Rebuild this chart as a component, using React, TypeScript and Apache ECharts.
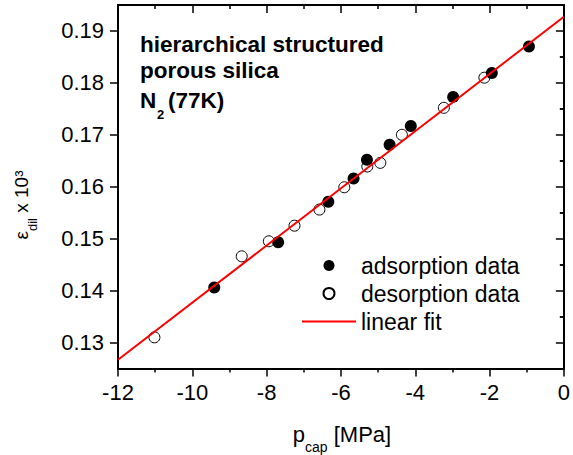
import React, { useEffect, useRef } from "react";
import * as echarts from "echarts";

const adsorptionX = [-0.94, -1.94, -2.98, -4.12, -4.69, -5.3, -5.66, -6.34, -7.69, -9.41];
const adsorptionY = [0.187, 0.1819, 0.1773, 0.1717, 0.1681, 0.1652, 0.1616, 0.1571, 0.1493, 0.1406];
const desorptionX = [-11.02, -8.67, -7.94, -7.25, -6.58, -5.91, -5.29, -4.94, -4.36, -3.23, -2.14];
const desorptionY = [0.131, 0.1466, 0.1495, 0.1525, 0.1556, 0.1599, 0.1639, 0.1646, 0.17, 0.1752, 0.181];
const fitX = [-12, 0];
const fitY = [0.12667, 0.19275];

const yMajorTicks = [0.13, 0.14, 0.15, 0.16, 0.17, 0.18, 0.19];
const yMinorTicks = [0.125, 0.135, 0.145, 0.155, 0.165, 0.175, 0.185, 0.195];
const titleLines = ["hierarchical structured", "porous silica"];

const FONT = '"Liberation Sans", Arial, sans-serif';

export default function App() {
  const ref = useRef<HTMLDivElement>(null);
  useEffect(() => {
    document.body.style.margin = "0";
    if (!ref.current) return;
    const chart = echarts.init(ref.current, null, { renderer: "svg" });
    const zip = (xs: number[], ys: number[]) => xs.map((x, i) => [x, ys[i]]);
    const lineStyle = { color: "#000", width: 2 };
    const tickStyle = { color: "#000", width: 1.5 };
    const yBase = {
      type: "value",
      min: 0.125,
      max: 0.195,
      splitLine: { show: false },
      axisLine: { show: false },
    };
    const option: any = {
      animation: false,
      backgroundColor: "#fff",
      textStyle: { fontFamily: FONT },
      grid: { left: 118, right: 5, top: 5, bottom: 86.5, containLabel: false },
      xAxis: [
        {
          type: "value",
          position: "bottom",
          min: -12,
          max: 0,
          interval: 2,
          splitLine: { show: false },
          axisLine: { show: true, onZero: false, lineStyle },
          axisTick: { show: true, inside: false, length: 8, lineStyle: tickStyle },
          minorTick: { show: true, splitNumber: 2, length: 4, lineStyle: tickStyle },
          axisLabel: { fontSize: 22, color: "#000", margin: 13, fontFamily: FONT },
        },
        {
          type: "value",
          position: "top",
          min: -12,
          max: 0,
          interval: 2,
          splitLine: { show: false },
          axisLine: { show: true, onZero: false, lineStyle },
          axisTick: { show: true, inside: true, length: 8, lineStyle: tickStyle },
          minorTick: { show: true, splitNumber: 2, length: 4, lineStyle: tickStyle },
          axisLabel: { show: false },
        },
      ],
      yAxis: [
        {
          ...yBase,
          position: "left",
          axisLine: { show: true, onZero: false, lineStyle },
          axisTick: { show: true, inside: false, length: 8, lineStyle: tickStyle, customValues: yMajorTicks },
          axisLabel: {
            fontSize: 22,
            color: "#000",
            margin: 14,
            fontFamily: FONT,
            customValues: yMajorTicks,
            formatter: (v: number) => v.toFixed(2),
          },
        },
        {
          ...yBase,
          position: "left",
          axisTick: { show: true, inside: false, length: 4, lineStyle: tickStyle, customValues: yMinorTicks },
          axisLabel: { show: false },
        },
        {
          ...yBase,
          position: "right",
          axisLine: { show: true, onZero: false, lineStyle },
          axisTick: { show: true, inside: true, length: 8, lineStyle: tickStyle, customValues: yMajorTicks },
          axisLabel: { show: false },
        },
        {
          ...yBase,
          position: "right",
          axisTick: { show: true, inside: true, length: 4, lineStyle: tickStyle, customValues: yMinorTicks },
          axisLabel: { show: false },
        },
      ],
      legend: {
        orient: "vertical",
        left: 301,
        top: 254,
        padding: 0,
        itemWidth: 54,
        itemHeight: 11,
        itemGap: 5,
        data: [
          "adsorption data",
          "desorption data",
          { name: "linear fit", itemStyle: { opacity: 0, color: "rgba(0,0,0,0)", borderWidth: 0 } },
        ],
        textStyle: { fontSize: 23, lineHeight: 23, color: "#000", fontFamily: FONT },
      },
      series: [
        {
          name: "desorption data",
          type: "scatter",
          xAxisIndex: 0,
          yAxisIndex: 0,
          symbol: "circle",
          symbolSize: 11,
          itemStyle: { color: "#fff", borderColor: "#000", borderWidth: 1, opacity: 1 },
          data: zip(desorptionX, desorptionY),
        },
        {
          name: "adsorption data",
          type: "scatter",
          xAxisIndex: 0,
          yAxisIndex: 0,
          symbol: "circle",
          symbolSize: 12,
          itemStyle: { color: "#000", borderWidth: 0, opacity: 1 },
          data: zip(adsorptionX, adsorptionY),
        },
        {
          name: "linear fit",
          type: "line",
          xAxisIndex: 0,
          yAxisIndex: 0,
          showSymbol: false,
          symbol: "none",
          color: "#ff0000",
          lineStyle: { color: "#ff0000", width: 2 },
          data: zip(fitX, fitY),
        },
      ],
      graphic: [
        {
          type: "text",
          x: 140,
          y: 44.8,
          style: { text: titleLines[0], font: `bold 22.5px ${FONT}`, fill: "#000", verticalAlign: "middle", align: "left" },
        },
        {
          type: "text",
          x: 140,
          y: 70.4,
          style: { text: titleLines[1], font: `bold 22.5px ${FONT}`, fill: "#000", verticalAlign: "middle", align: "left" },
        },
        {
          type: "text",
          x: 140,
          y: 100.4,
          style: { text: "N", font: `bold 22.5px ${FONT}`, fill: "#000", verticalAlign: "middle", align: "left" },
        },
        {
          type: "text",
          x: 157,
          y: 114.5,
          style: { text: "2", font: `bold 13px ${FONT}`, fill: "#000", verticalAlign: "middle", align: "left" },
        },
        {
          type: "text",
          x: 168,
          y: 100.4,
          style: { text: "(77K)", font: `bold 22.5px ${FONT}`, fill: "#000", verticalAlign: "middle", align: "left" },
        },
        {
          type: "text",
          x: 342,
          y: 434.3,
          style: {
            text: "{m|p}{s|cap}{m| [MPa]}",
            align: "center",
            verticalAlign: "middle",
            fill: "#000",
            rich: {
              m: { fontSize: 22, fontFamily: FONT, lineHeight: 40, verticalAlign: "middle", fill: "#000" },
              s: { fontSize: 14, fontFamily: FONT, lineHeight: 14, verticalAlign: "bottom", fill: "#000" },
            },
          },
        },
        {
          type: "text",
          x: 21,
          y: 205,
          rotation: Math.PI / 2,
          style: {
            text: "{m|ε}{s|dil}{m| x 10³}",
            align: "center",
            verticalAlign: "middle",
            fill: "#000",
            rich: {
              m: { fontSize: 19, fontFamily: FONT, lineHeight: 36, verticalAlign: "middle", fill: "#000" },
              s: { fontSize: 13, fontFamily: FONT, lineHeight: 14, verticalAlign: "bottom", fill: "#000" },
            },
          },
        },
      ],
    };
    chart.setOption(option);
    return () => chart.dispose();
  }, []);
  return <div ref={ref} style={{ width: 573, height: 455, position: "absolute", left: 0, top: 0 }} />;
}
